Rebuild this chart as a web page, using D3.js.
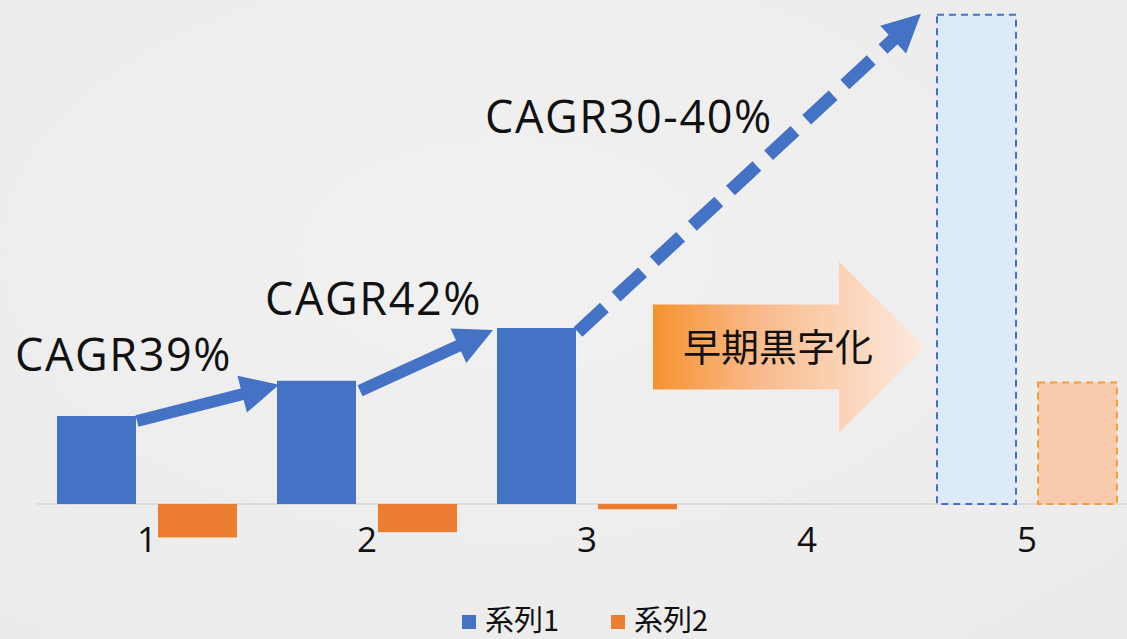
<!DOCTYPE html>
<html>
<head>
<meta charset="utf-8">
<script src="https://cdn.jsdelivr.net/npm/d3@7"></script>
<style>
  html, body { margin: 0; padding: 0; background: #eeeeee; }
  svg { display: block; }
  .lbl { font-family: "Open Sans", "Noto Sans CJK JP", sans-serif; fill: #111; }
  .jp { font-family: "Noto Sans CJK JP", sans-serif; fill: #111; }
</style>
</head>
<body>
<div id="chart"></div>
<script>
// chart data
var categories = ["1", "2", "3", "4", "5"];
var seriesNames = ["系列1", "系列2"];
var series1 = [50, 70, 100, null, 278];   // 5 = forecast (dashed)
var series2 = [-19, -16, -3, null, 69];
var forecastCat = "5";
var cagrLabels = ["CAGR39%", "CAGR42%", "CAGR30-40%"];
var calloutText = "早期黒字化";

const W = 1127, H = 639;
const colors = { "系列1": "#4472c4", "系列2": "#ed7d31" };
const light = { "系列1": "#ddeaf7", "系列2": "#f8cbad" };
const lightStroke = { "系列1": "#4472c4", "系列2": "#f79a38" };

const svg = d3.select("#chart").append("svg")
    .attr("width", W)
    .attr("height", H);

// background
const defs = svg.append("defs");
const bg = defs.append("radialGradient").attr("id", "bg").attr("cx", "45%").attr("cy", "40%").attr("r", "75%");
bg.append("stop").attr("offset", "0%").attr("stop-color", "#f1f1f1");
bg.append("stop").attr("offset", "100%").attr("stop-color", "#ebebeb");
svg.append("rect").attr("width", W).attr("height", H).attr("fill", "url(#bg)");

// scales
const x0 = d3.scaleBand()
    .domain(categories)
    .range([37, 1137])
    .paddingInner(40 / 220)
    .paddingOuter(20 / 220);

const x1 = d3.scaleBand()
    .domain(seriesNames)
    .range([0, x0.bandwidth()])
    .paddingInner(22 / 101);

const y = d3.scaleLinear()
    .domain([-20, 280])
    .range([504 + 20 * 1.76, 504 - 280 * 1.76]);

var rows = [];
categories.forEach((c, i) => {
    rows.push({ cat: c, s: "系列1", v: series1[i] });
    rows.push({ cat: c, s: "系列2", v: series2[i] });
});
rows = rows.filter(d => d.v != null);

// axis line
svg.append("line")
    .attr("x1", 37).attr("x2", W)
    .attr("y1", y(0)).attr("y2", y(0))
    .attr("stroke", "#d6d6d6")
    .attr("stroke-width", 1.5);

// bars
svg.append("g").selectAll("rect")
    .data(rows)
    .join("rect")
    .attr("x", d => x0(d.cat) + x1(d.s))
    .attr("width", x1.bandwidth())
    .attr("y", d => Math.min(y(d.v), y(0)))
    .attr("height", d => Math.abs(y(d.v) - y(0)))
    .attr("fill", d => d.cat == forecastCat ? light[d.s] : colors[d.s])
    .attr("stroke", d => d.cat == forecastCat ? lightStroke[d.s] : "none")
    .attr("stroke-width", 2)
    .attr("stroke-dasharray", d => d.cat == forecastCat ? "7 5" : null);

// x tick labels
svg.append("g").selectAll("text")
    .data(categories)
    .join("text")
    .attr("class", "lbl")
    .attr("x", d => x0(d) + x0.bandwidth() / 2)
    .attr("y", 552)
    .attr("text-anchor", "middle")
    .style("font-size", "35px")
    .text(d => d);

// growth arrows
function arrow(g, p0, p1, opts) {
    var dx = p1[0] - p0[0], dy = p1[1] - p0[1];
    var len = Math.sqrt(dx * dx + dy * dy);
    var ux = dx / len, uy = dy / len;
    var hl = opts.headLen, hw = opts.headWid / 2;
    var bx = p1[0] - ux * hl, by = p1[1] - uy * hl;
    g.append("line")
        .attr("x1", p0[0]).attr("y1", p0[1])
        .attr("x2", bx + ux * 2).attr("y2", by + uy * 2)
        .attr("stroke", opts.color)
        .attr("stroke-width", opts.width)
        .attr("stroke-dasharray", opts.dash || null);
    g.append("path")
        .attr("d", "M" + p1[0] + "," + p1[1] +
            "L" + (bx - uy * hw) + "," + (by + ux * hw) +
            "L" + (bx + uy * hw) + "," + (by - ux * hw) + "Z")
        .attr("fill", opts.color);
}

const ag = svg.append("g");
const b1 = (c) => x0(c) + x1("系列1");
const bw = x1.bandwidth();
arrow(ag, [b1("1") + bw + 1, y(series1[0]) + 5], [b1("2") + 2, y(series1[1]) + 4],
    { color: colors["系列1"], width: 12, headLen: 38, headWid: 38 });
arrow(ag, [b1("2") + bw + 4, y(series1[1]) + 10], [b1("3") - 4, y(series1[2]) + 2],
    { color: colors["系列1"], width: 12, headLen: 38, headWid: 38 });
arrow(ag, [b1("3") + bw + 2, y(series1[2]) + 4], [b1("5") - 16, y(series1[4]) - 1],
    { color: colors["系列1"], width: 13, headLen: 38, headWid: 38, dash: "36 16" });

// CAGR labels
const cagrPos = [
    [x0("1") - 42, y(series1[0]) - 45],
    [x0("2") - 12, y(series1[1]) - 66],
    [x0("3") - 12, y(series1[2]) - 195]
];
svg.append("g").selectAll("text")
    .data(cagrLabels)
    .join("text")
    .attr("class", "lbl")
    .attr("x", (d, i) => cagrPos[i][0])
    .attr("y", (d, i) => cagrPos[i][1])
    .style("font-size", "45px")
    .style("letter-spacing", "1.6px")
    .text(d => d);

// callout arrow (gradient)
const grad = defs.append("linearGradient").attr("id", "callout").attr("x1", "0%").attr("x2", "100%");
grad.append("stop").attr("offset", "0%").attr("stop-color", "#f7922e");
grad.append("stop").attr("offset", "40%").attr("stop-color", "#f9bb8e");
grad.append("stop").attr("offset", "100%").attr("stop-color", "#fcebdf");

const cx0 = x0("3") + x0.bandwidth() - 24, cx1 = x0("5") - 12;
const cyMid = 347, bodyH = 85, headH = 171, headL = 86;
svg.append("path")
    .attr("d", "M" + cx0 + "," + (cyMid - bodyH / 2) +
        "L" + (cx1 - headL) + "," + (cyMid - bodyH / 2) +
        "L" + (cx1 - headL) + "," + (cyMid - headH / 2) +
        "L" + cx1 + "," + cyMid +
        "L" + (cx1 - headL) + "," + (cyMid + headH / 2) +
        "L" + (cx1 - headL) + "," + (cyMid + bodyH / 2) +
        "L" + cx0 + "," + (cyMid + bodyH / 2) + "Z")
    .attr("fill", "url(#callout)");
svg.append("text")
    .attr("class", "jp")
    .attr("x", cx0 + 30)
    .attr("y", cyMid + 14)
    .style("font-size", "38px")
    .text(calloutText);

// legend
const lg = svg.append("g").selectAll("g")
    .data(seriesNames)
    .join("g")
    .attr("transform", (d, i) => "translate(" + (462 + i * 149) + ",615)");
lg.append("rect")
    .attr("width", 14).attr("height", 14)
    .attr("fill", d => colors[d]);
lg.append("text")
    .attr("class", "jp")
    .attr("x", 23)
    .attr("y", 16)
    .style("font-size", "29px")
    .text(d => d);
</script>
</body>
</html>
